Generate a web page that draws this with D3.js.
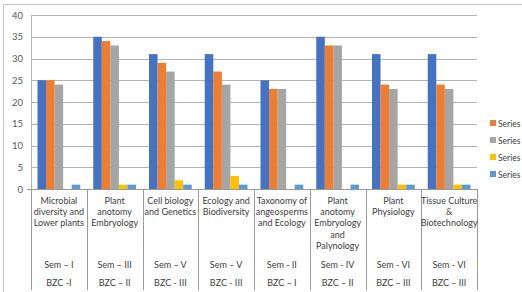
<!DOCTYPE html>
<html>
<head>
<meta charset="utf-8">
<script src="https://cdn.jsdelivr.net/npm/d3@7"></script>
<style>
  body { margin: 0; background: #fff; }
  svg { display: block; font-family: Lato, "Open Sans", sans-serif; }
</style>
</head>
<body>
<div id="chart"></div>
<script>
const width = 522, height = 292;

// category labels, "|" marks a line break
const subjects = [
  "Microbial|diversity and|Lower plants",
  "Plant|anotomy|Embryology",
  "Cell biology|and Genetics",
  "Ecology and|Biodiversity",
  "Taxonomy of|angeosperms|and Ecology",
  "Plant|anotomy|Embryology|and|Palynology",
  "Plant|Physiology",
  "Tissue Culture|&|Biotechnology"
];
const semesters = ["Sem – I", "Sem – III", "Sem – V", "Sem – V", "Sem - II", "Sem - IV", "Sem - VI", "Sem - VI"];
const papers = ["BZC -I", "BZC – II", "BZC - III", "BZC - III", "BZC – I", "BZC – II", "BZC – III", "BZC – III"];

const seriesNames = ["Series1", "Series2", "Series3", "Series4", "Series5"];
const seriesColors = ["#4472C4", "#ED7D31", "#A5A5A5", "#FFC000", "#5B9BD5"];

const s1 = [25, 35, 31, 31, 25, 35, 31, 31];
const s2 = [25, 34, 29, 27, 23, 33, 24, 24];
const s3 = [24, 33, 27, 24, 23, 33, 23, 23];
const s4 = [0, 1, 2, 3, 0, 0, 1, 1];
const s5 = [1, 1, 1, 1, 1, 1, 1, 1];
const seriesValues = [s1, s2, s3, s4, s5];

const yTicks = [0, 5, 10, 15, 20, 25, 30, 35, 40];
const legendShown = [1, 2, 3, 4];

const svg = d3.select("#chart").append("svg")
  .attr("width", width)
  .attr("height", height);

// outer chart border (runs off the right and bottom edges)
svg.append("line").attr("x1", 3).attr("x2", width).attr("y1", 4.5).attr("y2", 4.5)
  .attr("stroke", "#c8c8c8");
svg.append("line").attr("x1", 3.5).attr("x2", 3.5).attr("y1", 4).attr("y2", height)
  .attr("stroke", "#c8c8c8");

const plotLeft = 31, plotRight = 477, plotTop = 15, plotBottom = 189;

const x0 = d3.scaleBand().domain(d3.range(subjects.length)).range([plotLeft, plotRight]);
const x1 = d3.scaleBand().domain(seriesNames).range([0, x0.bandwidth()]).paddingOuter(0.76);
const y = d3.scaleLinear().domain([0, 40]).range([plotBottom, plotTop]);

// gridlines
svg.append("g").selectAll("line").data(yTicks).join("line")
  .attr("x1", plotLeft).attr("x2", plotRight)
  .attr("y1", d => Math.round(y(d)) + 0.5).attr("y2", d => Math.round(y(d)) + 0.5)
  .attr("stroke", "#b4b4b4");

// y tick labels
svg.append("g").selectAll("text").data(yTicks).join("text")
  .attr("x", 23).attr("y", d => y(d) + 3.5)
  .attr("text-anchor", "end")
  .attr("font-size", "9.5px").attr("fill", "#595959")
  .text(d => d);

// y axis line
svg.append("line").attr("x1", plotLeft + 0.5).attr("x2", plotLeft + 0.5)
  .attr("y1", plotTop).attr("y2", plotBottom)
  .attr("stroke", "#b4b4b4");

// bars
const rows = [];
subjects.forEach((_, i) => {
  seriesNames.forEach((s, j) => rows.push({ i, s, j, v: seriesValues[j][i] }));
});
svg.append("g").selectAll("rect").data(rows.filter(d => d.v > 0)).join("rect")
  .attr("x", d => x0(d.i) + x1(d.s))
  .attr("width", x1.bandwidth())
  .attr("y", d => y(d.v))
  .attr("height", d => y(0) - y(d.v))
  .attr("fill", d => seriesColors[d.j]);

// category dividers under the axis
const divs = d3.range(subjects.length + 1).map(i => i < subjects.length ? x0(i) : plotRight);
svg.append("g").selectAll("line").data(divs).join("line")
  .attr("x1", d => Math.round(d) + 0.5).attr("x2", d => Math.round(d) + 0.5)
  .attr("y1", plotBottom).attr("y2", 290)
  .attr("stroke", "#9a9a9a");
svg.append("line").attr("x1", 27).attr("x2", plotRight).attr("y1", plotBottom + 0.5).attr("y2", plotBottom + 0.5)
  .attr("stroke", "#9a9a9a");

// category labels
const lab = svg.append("g").attr("font-size", "9px").attr("fill", "#404040")
  .attr("text-anchor", "middle");
subjects.forEach((s, i) => {
  const cx = x0(i) + x0.bandwidth() / 2;
  s.split("|").forEach((line, k) => {
    lab.append("text").attr("x", cx).attr("y", 204 + k * 11.2).text(line);
  });
  lab.append("text").attr("x", cx).attr("y", 268).text(semesters[i]);
  lab.append("text").attr("x", cx).attr("y", 285.5).text(papers[i]);
});

// legend
const leg = svg.append("g").selectAll("g").data(legendShown).join("g")
  .attr("transform", (d, k) => `translate(490,${120 + k * 17})`);
leg.append("rect").attr("width", 6).attr("height", 6)
  .attr("fill", d => seriesColors[d]);
leg.append("text").attr("x", 8).attr("y", 6.5)
  .attr("font-size", "8.5px").attr("fill", "#404040")
  .text("Series");
</script>
</body>
</html>
